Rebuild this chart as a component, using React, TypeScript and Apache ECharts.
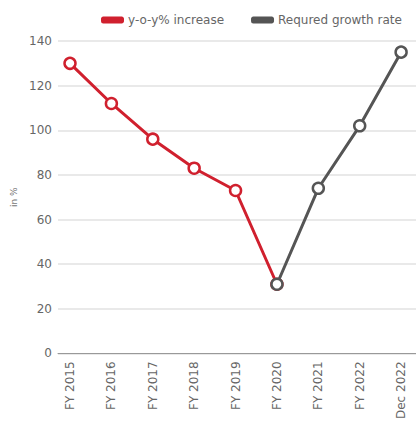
import React, { useEffect, useRef } from "react";
import * as echarts from "echarts";

const categories = [
  "FY 2015",
  "FY 2016",
  "FY 2017",
  "FY 2018",
  "FY 2019",
  "FY 2020",
  "FY 2021",
  "FY 2022",
  "Dec 2022",
];
const yoyIncrease: (number | null)[] = [130, 112, 96, 83, 73, 31, null, null, null];
const requiredGrowth: (number | null)[] = [null, null, null, null, null, 31, 74, 102, 135];
const yTicks = [0, 20, 40, 60, 80, 100, 120, 140];

const RED = "#d0202e";
const GREY = "#555555";
const FONT = "DejaVu Sans";

const toPoints = (vals: (number | null)[]) =>
  vals
    .map((v, i) => (v === null ? null : [i, v]))
    .filter((p) => p !== null) as number[][];

export default function App() {
  const ref = useRef<HTMLDivElement>(null);

  useEffect(() => {
    if (!ref.current) return;
    const chart = echarts.init(ref.current, null, { renderer: "svg" });
    const idx = categories.map((_, i) => i);
    chart.setOption({
      animation: false,
      backgroundColor: "#ffffff",
      textStyle: { fontFamily: FONT },
      legend: {
        left: 96,
        top: 9,
        itemWidth: 21,
        itemHeight: 5,
        itemGap: 27,
        icon: "roundRect",
        textStyle: { color: "#666", fontSize: 12, fontFamily: FONT },
        data: [
          { name: "y-o-y% increase", itemStyle: { color: RED } },
          { name: "Requred growth rate", itemStyle: { color: GREY } },
        ],
      },
      grid: { left: 58, right: 0, top: 41, bottom: 67, containLabel: false },
      xAxis: {
        type: "value",
        min: -0.29,
        max: 8.36,
        splitLine: { show: false },
        axisTick: { show: false },
        axisLine: { show: true, onZero: true, lineStyle: { color: "#999", width: 1 } },
        axisLabel: {
          customValues: idx,
          rotate: 90,
          margin: 8,
          color: "#666",
          fontSize: 12,
          fontFamily: FONT,
          formatter: (v: number) => categories[Math.round(v)] ?? "",
        },
      },
      yAxis: {
        type: "value",
        min: yTicks[0],
        max: yTicks[yTicks.length - 1],
        interval: 20,
        name: "in %",
        nameLocation: "middle",
        nameGap: 40,
        nameRotate: 90,
        nameTextStyle: { color: "#777", fontSize: 9, fontFamily: FONT },
        axisLine: { show: false },
        axisTick: { show: false },
        splitLine: { lineStyle: { color: "#e2e2e2", width: 1.5 } },
        axisLabel: { color: "#666", fontSize: 12, margin: 6, fontFamily: FONT },
      },
      series: [
        {
          name: "y-o-y% increase",
          type: "line",
          data: toPoints(yoyIncrease),
          symbol: "circle",
          symbolSize: 11,
          lineStyle: { color: RED, width: 3 },
          itemStyle: { color: "#fff", borderColor: RED, borderWidth: 2.5 },
          z: 2,
        },
        {
          name: "Requred growth rate",
          type: "line",
          data: toPoints(requiredGrowth),
          symbol: "circle",
          symbolSize: 11,
          lineStyle: { color: GREY, width: 3 },
          itemStyle: { color: "#fff", borderColor: GREY, borderWidth: 2.5 },
          z: 3,
        },
      ],
    });
    return () => chart.dispose();
  }, []);

  return (
    <div
      ref={ref}
      style={{ position: "fixed", left: 0, top: 0, width: 416, height: 422 }}
    />
  );
}
